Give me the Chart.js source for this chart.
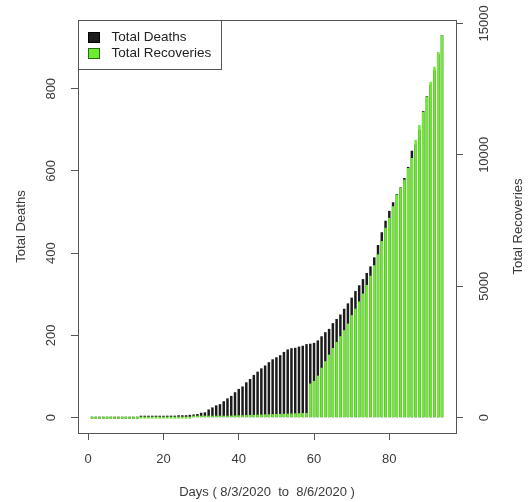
<!DOCTYPE html>
<html>
<head>
<meta charset="utf-8">
<script src="https://cdn.jsdelivr.net/npm/chart.js@4.4.1/dist/chart.umd.min.js"></script>
<style>
  html, body { margin: 0; padding: 0; background: #fff; }
  #chart { display: block; }
</style>
</head>
<body>
<canvas id="chart" width="528" height="502"></canvas>
<script>
// day index 1..94
const days = Array.from({length: 94}, (_, i) => i + 1);

const totalDeaths = [
  0, 0, 0, 0, 0, 0, 0, 0, 0, 0, 0, 0, 0,
  1, 1, 2, 2, 3, 4, 4, 5, 5, 5, 6, 6, 6, 7, 8, 9, 12,
  13, 20, 25, 30, 33, 40, 47, 53, 62, 70,
  76, 86, 94, 104, 112, 120, 127, 135, 142, 147,
  152, 160, 166, 169, 170, 173, 175, 179, 180, 182,
  188, 198, 208, 216, 230, 240, 251, 265, 278, 292,
  308, 322, 337, 352, 368, 390, 420, 451, 479, 503,
  524, 544, 560, 583, 610, 649, 665, 700, 746, 782,
  810, 845, 885, 930
];

const totalRecoveries = [
  0, 0, 0, 0, 0, 0, 0, 0, 0, 0, 0, 0, 0, 0, 0, 0, 0, 0, 0, 0,
  0, 0, 0, 0, 0, 0, 0, 10, 15, 20,
  30, 40, 50, 60, 65, 70, 75, 80, 85, 90,
  95, 100, 105, 110, 115, 120, 125, 130, 135, 140,
  145, 150, 155, 160, 165, 170, 175, 180, 1300, 1400,
  1600, 1900, 2150, 2400, 2650, 2880, 3100, 3330, 3580, 3900,
  4150, 4420, 4720, 5050, 5400, 5800, 6212, 6716, 7223, 7602,
  8042, 8485, 8738, 9053, 9496, 9875, 10568, 11136, 11640, 12208,
  12777, 13345, 13913, 14545
];

const dayTicks = [0, 20, 40, 60, 80];
const deathTicks = [0, 200, 400, 600, 800];
const recoveryTicks = [0, 5000, 10000, 15000];
const seriesNames = ['Total Deaths', 'Total Recoveries'];
const xTitle = 'Days ( 8/3/2020  to  8/6/2020 )';

const deathColor = '#1c1c1c';
const recoveryColor = '#6cec2e';
const inkColor = '#3a3a3a';
const fontFamily = '"Liberation Sans", Arial, sans-serif';

// R style 4% range extension
const ext = (lo, hi) => { const p = (hi - lo) * 0.04; return [lo - p, hi + p]; };
const xRange = ext(Math.min(...days), Math.max(...days));
const dRange = ext(0, Math.max(...totalDeaths));
const rRange = ext(0, Math.max(...totalRecoveries));

const setTicks = list => scale => { scale.ticks = list.map(v => ({value: v})); };
const plainLabel = v => String(v);

const framePlugin = {
  id: 'frame',
  afterDatasetsDraw(chart) {
    const {ctx, chartArea: a} = chart;
    ctx.save();
    ctx.strokeStyle = '#555';
    ctx.lineWidth = 1;
    ctx.strokeRect(Math.round(a.left) + 0.5, Math.round(a.top) + 0.5,
      Math.round(a.right - a.left), Math.round(a.bottom - a.top));
    ctx.restore();
  },
  afterDraw(chart) {
    const {ctx, chartArea: a} = chart;
    ctx.save();
    // legend box in the top-left corner
    const lx = Math.round(a.left) + 0.5, ly = Math.round(a.top) + 0.5;
    ctx.fillStyle = '#fff';
    ctx.fillRect(lx, ly, 143, 49);
    ctx.strokeStyle = '#555';
    ctx.strokeRect(lx, ly, 143, 49);
    const colors = [deathColor, recoveryColor];
    ctx.font = '13.5px ' + fontFamily;
    ctx.textBaseline = 'middle';
    seriesNames.forEach((name, i) => {
      const cy = ly + 17 + i * 16;
      ctx.fillStyle = colors[i];
      ctx.fillRect(lx + 10, cy - 5, 11, 10);
      ctx.strokeStyle = i === 0 ? '#000' : '#2a6a10';
      ctx.strokeRect(lx + 10, cy - 5, 11, 10);
      ctx.fillStyle = '#222';
      ctx.fillText(name, lx + 33, cy);
    });
    // right axis title, reads bottom to top like R's mtext
    ctx.translate(518, (a.top + a.bottom) / 2);
    ctx.rotate(-Math.PI / 2);
    ctx.textAlign = 'center';
    ctx.fillStyle = inkColor;
    ctx.font = '13px ' + fontFamily;
    ctx.fillText('Total Recoveries', 0, 0);
    ctx.restore();
  }
};

const tickGrid = {display: true, drawOnChartArea: false, drawTicks: true, tickLength: 7, color: '#555', offset: false};
const tickFont = {family: fontFamily, size: 13};

new Chart(document.getElementById('chart'), {
  type: 'bar',
  data: {
    datasets: [
      {
        label: seriesNames[0],
        data: days.map((d, i) => ({x: d, y: totalDeaths[i]})),
        backgroundColor: deathColor,
        yAxisID: 'y',
        order: 2
      },
      {
        label: seriesNames[1],
        data: days.map((d, i) => ({x: d, y: totalRecoveries[i]})),
        backgroundColor: recoveryColor,
        yAxisID: 'y1',
        order: 1
      }
    ]
  },
  options: {
    responsive: false,
    animation: false,
    devicePixelRatio: 1,
    layout: {padding: {top: 20, left: 0, right: 0, bottom: 0}},
    datasets: {
      bar: {grouped: false, barThickness: 2.5, minBarLength: 2, borderWidth: 0, inflateAmount: 0}
    },
    plugins: {legend: {display: false}, tooltip: {enabled: false}},
    scales: {
      x: {
        type: 'linear',
        offset: false,
        min: xRange[0],
        max: xRange[1],
        afterBuildTicks: setTicks(dayTicks),
        afterFit: s => { s.height = 69; },
        grid: tickGrid,
        border: {display: false},
        ticks: {color: inkColor, font: tickFont, padding: 12, maxRotation: 0, callback: plainLabel},
        title: {display: true, text: xTitle, color: inkColor, font: tickFont, padding: {top: 0, bottom: 2}}
      },
      y: {
        position: 'left',
        min: dRange[0],
        max: dRange[1],
        afterBuildTicks: setTicks(deathTicks),
        afterFit: s => { s.width = 78; },
        grid: tickGrid,
        border: {display: false},
        ticks: {color: inkColor, font: tickFont, padding: 9, minRotation: 90, maxRotation: 90, crossAlign: 'center', callback: plainLabel},
        title: {display: true, text: seriesNames[0], color: inkColor, font: tickFont, padding: {top: 14, bottom: 0}}
      },
      y1: {
        position: 'right',
        min: rRange[0],
        max: rRange[1],
        afterBuildTicks: setTicks(recoveryTicks),
        afterFit: s => { s.width = 72; },
        grid: tickGrid,
        border: {display: false},
        ticks: {color: inkColor, font: tickFont, padding: 3, minRotation: 90, maxRotation: 90, crossAlign: 'center', callback: plainLabel}
      }
    }
  },
  plugins: [framePlugin]
});
</script>
</body>
</html>
